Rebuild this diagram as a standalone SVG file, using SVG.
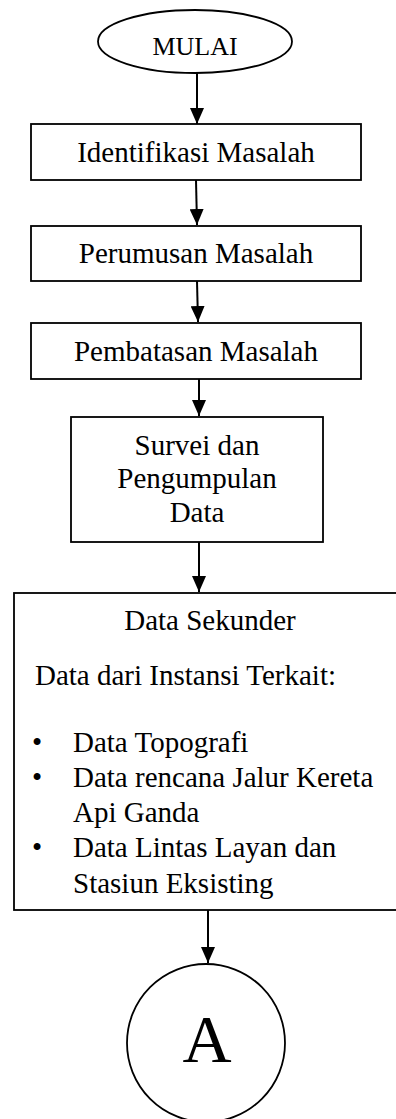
<svg xmlns="http://www.w3.org/2000/svg" width="396" height="1119" viewBox="0 0 396 1119">
<style>
.s{fill:#fff;stroke:#000;stroke-width:1.8}
.t{font-family:"Liberation Serif","Times New Roman",serif;font-size:29px;fill:#000}
.c{text-anchor:middle}
.e{stroke:#000;stroke-width:2;fill:none}
</style>
<defs>
<marker id="ah" viewBox="0 0 10 10" refX="10" refY="5" markerWidth="16" markerHeight="14" markerUnits="userSpaceOnUse" orient="auto" preserveAspectRatio="none">
<path d="M0,0 L10,5 L0,10 Z" fill="#000"/>
</marker>
</defs>
<rect width="396" height="1119" fill="#fff"/>
<g id="connectors">
<line class="e" x1="197" y1="73" x2="197" y2="124" marker-end="url(#ah)"/>
<line class="e" x1="196" y1="180" x2="197" y2="225" marker-end="url(#ah)"/>
<line class="e" x1="197" y1="281" x2="198" y2="322" marker-end="url(#ah)"/>
<line class="e" x1="199" y1="379" x2="199" y2="416" marker-end="url(#ah)"/>
<line class="e" x1="199" y1="542" x2="199" y2="592" marker-end="url(#ah)"/>
<line class="e" x1="208" y1="910" x2="208" y2="963" marker-end="url(#ah)"/>
</g>
<g id="mulai">
<ellipse class="s" cx="195" cy="41.5" rx="97" ry="31.5"/>
<text class="t c" x="195" y="55" style="font-size:26px">MULAI</text>
</g>
<g id="identifikasi">
<rect class="s" x="31" y="124" width="330" height="56"/>
<text class="t c" x="196" y="162">Identifikasi Masalah</text>
</g>
<g id="perumusan">
<rect class="s" x="31" y="226" width="330" height="55"/>
<text class="t c" x="196" y="263">Perumusan Masalah</text>
</g>
<g id="pembatasan">
<rect class="s" x="31" y="323" width="330" height="56"/>
<text class="t c" x="196" y="361">Pembatasan Masalah</text>
</g>
<g id="survei">
<rect class="s" x="71" y="417" width="252" height="125"/>
<text class="t c" x="197" y="455">Survei dan</text>
<text class="t c" x="197" y="488">Pengumpulan</text>
<text class="t c" x="197" y="522">Data</text>
</g>
<g id="data-sekunder">
<rect class="s" x="14" y="593" width="400" height="317"/>
<text class="t c" x="210" y="630">Data Sekunder</text>
<text class="t" x="35" y="685">Data dari Instansi Terkait:</text>
<text class="t" x="32" y="752">•</text>
<text class="t" x="73" y="752">Data Topografi</text>
<text class="t" x="32" y="787">•</text>
<text class="t" x="73" y="787">Data rencana Jalur Kereta</text>
<text class="t" x="73" y="822">Api Ganda</text>
<text class="t" x="32" y="857">•</text>
<text class="t" x="73" y="857">Data Lintas Layan dan</text>
<text class="t" x="73" y="893">Stasiun Eksisting</text>
</g>
<g id="a">
<circle class="s" cx="206" cy="1043" r="79"/>
<text class="t c" x="207" y="1062" style="font-size:68px">A</text>
</g>
</svg>
